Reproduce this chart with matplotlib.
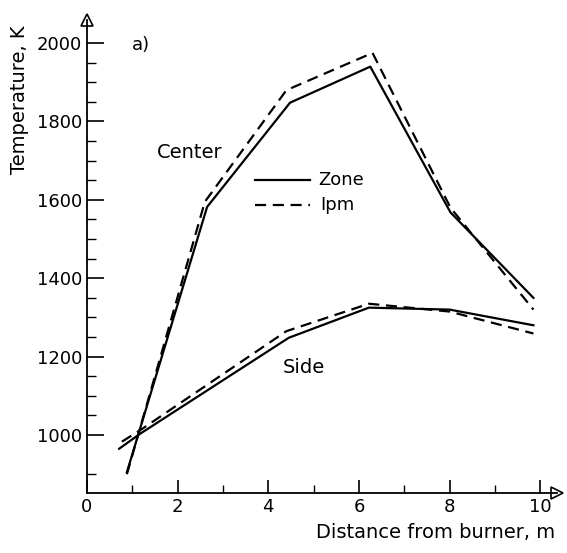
import matplotlib
matplotlib.use("Agg")
import matplotlib.pyplot as plt

# distance from burner (m) and temperature (K)
center_zone_x = [0.88, 2.65, 4.48, 6.25, 8.02, 9.85]
center_zone_t = [905, 1582, 1848, 1940, 1568, 1350]
center_ipm_x = [0.88, 2.6, 4.4, 6.3, 8.02, 9.85]
center_ipm_t = [900, 1595, 1880, 1975, 1580, 1320]

side_zone_x = [0.71, 1.17, 4.45, 6.22, 8.0, 9.85]
side_zone_t = [965, 1003, 1248, 1325, 1320, 1280]
side_ipm_x = [0.77, 1.17, 4.4, 6.22, 8.0, 9.85]
side_ipm_t = [983, 1012, 1265, 1335, 1315, 1259]

x_ticks = [0, 2, 4, 6, 8, 10]
y_ticks = [1000, 1200, 1400, 1600, 1800, 2000]

plt.rcParams['font.family'] = ['DejaVu Sans']

fig = plt.figure(figsize=(5.67, 5.53), dpi=100)
ax = fig.add_axes([87 / 567, 60 / 553, (557 - 87) / 567, (493 - 20) / 553])

lw = 1.6
dash = (0, (5, 3))
ax.plot(center_zone_x, center_zone_t, color='k', lw=lw)
ax.plot(center_ipm_x, center_ipm_t, color='k', lw=lw, linestyle=dash)
ax.plot(side_zone_x, side_zone_t, color='k', lw=lw)
ax.plot(side_ipm_x, side_ipm_t, color='k', lw=lw, linestyle=dash)

ax.set_xlim(0, 10.37)
ax.set_ylim(852, 2059)

ax.spines['top'].set_visible(False)
ax.spines['right'].set_visible(False)
ax.spines['left'].set_linewidth(1.3)
ax.spines['bottom'].set_linewidth(1.3)

ax.set_xticks(x_ticks)
ax.set_xticks([1, 3, 5, 7, 9], minor=True)
ax.set_yticks(y_ticks)
ax.set_yticks([900, 1050, 1100, 1150, 1250, 1300, 1350, 1450, 1500, 1550,
               1650, 1700, 1750, 1850, 1900, 1950], minor=True)
ax.tick_params(axis='both', which='major', direction='in', width=1.2, labelsize=13)
ax.tick_params(axis='both', which='minor', direction='in', width=1.0)
ax.tick_params(axis='y', which='major', length=12)
ax.tick_params(axis='y', which='minor', length=6.5)
ax.tick_params(axis='x', which='major', length=9.5)
ax.tick_params(axis='x', which='minor', length=6)

# arrow heads at the ends of the axes
ax.plot(1, 0, marker='>', ms=9, mfc='white', mec='k', mew=1.2,
        transform=ax.transAxes, clip_on=False)
ax.plot(0, 1, marker='^', ms=9, mfc='white', mec='k', mew=1.2,
        transform=ax.transAxes, clip_on=False)

ax.text(1.0, 1995, 'a)', fontsize=13, va='center')
ax.text(1.55, 1722, 'Center', fontsize=14, va='center')
ax.text(4.33, 1172, 'Side', fontsize=14, va='center')

# hand-drawn legend
ax.plot([3.71, 4.92], [1651, 1651], color='k', lw=lw)
ax.plot([3.71, 4.92], [1587, 1587], color='k', lw=lw, linestyle=dash)
ax.text(5.1, 1651, 'Zone', fontsize=13, va='center')
ax.text(5.15, 1587, 'Ipm', fontsize=13, va='center')

fig.text(555 / 567, 1 - 533 / 553, 'Distance from burner, m', fontsize=14,
         ha='right', va='center')
fig.text(20 / 567, 1 - 100 / 553, 'Temperature, K', fontsize=14, rotation=90,
         ha='center', va='center')

fig.savefig('out.png', dpi=100)
